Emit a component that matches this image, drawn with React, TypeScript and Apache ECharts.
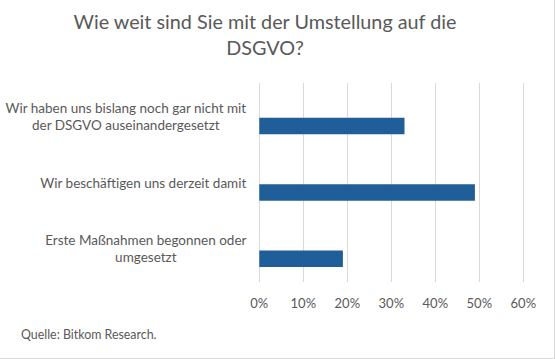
import React, { useEffect, useRef } from "react";
import * as echarts from "echarts";

const TITLE = "Wie weit sind Sie mit der Umstellung auf die\nDSGVO?";
const SOURCE = "Quelle: Bitkom Research.";
const categories = [
  "Wir haben uns bislang noch gar nicht mit\nder DSGVO auseinandergesetzt",
  "Wir beschäftigen uns derzeit damit",
  "Erste Maßnahmen begonnen oder\numgesetzt",
];
const values = [33, 49, 19];
const xTicks = [0, 10, 20, 30, 40, 50, 60];

const FONT = "Lato, 'Noto Sans', sans-serif";
const TEXT = "#595959";
const LABEL_SIZE = 13.5;

function measure(text: string, size: number): number {
  const c = document.createElement("canvas").getContext("2d");
  if (!c) return text.length * size * 0.5;
  c.font = `${size}px Lato`;
  return c.measureText(text).width;
}

export default function App() {
  const ref = useRef<HTMLDivElement>(null);
  useEffect(() => {
    if (!ref.current) return;
    const chart = echarts.init(ref.current, undefined, { renderer: "svg" });
    const rich: Record<string, any> = {};
    categories.forEach((cat, i) => {
      const w = Math.max(...cat.split("\n").map((l) => measure(l, LABEL_SIZE)));
      rich["c" + i] = {
        align: "center",
        width: Math.ceil(w) + 1,
        color: TEXT,
        fontFamily: FONT,
        fontSize: LABEL_SIZE,
        lineHeight: 17,
      };
    });
    chart.setOption({
      animation: false,
      backgroundColor: "#ffffff",
      title: {
        text: TITLE,
        left: 260,
        top: 3,
        textAlign: "center",
        textStyle: {
          fontFamily: FONT,
          fontSize: 19.8,
          fontWeight: "normal",
          color: TEXT,
          lineHeight: 26,
          align: "center",
        },
      },
      grid: { left: 259.3, right: 555 - 523.3, top: 83, bottom: 359 - 282 },
      xAxis: {
        type: "value",
        min: xTicks[0],
        max: xTicks[xTicks.length - 1],
        interval: 10,
        axisLine: { show: false },
        axisTick: { show: false },
        splitLine: { show: true, lineStyle: { color: "#d9d9d9", width: 1 } },
        axisLabel: {
          formatter: (v: number) => `${v}%`,
          color: TEXT,
          fontFamily: FONT,
          fontSize: 13,
          margin: 14,
        },
      },
      yAxis: {
        type: "category",
        data: categories,
        inverse: true,
        axisLine: { show: false },
        axisTick: { show: false },
        splitLine: { show: false },
        axisLabel: {
          margin: 12,
          formatter: (v: string) => {
            const i = categories.indexOf(v);
            return v
              .split("\n")
              .map((l) => `{c${i}|${l}}`)
              .join("\n");
          },
          rich,
        },
      },
      series: [
        {
          type: "bar",
          name: "spacer",
          data: categories.map(() => null),
          barWidth: 16.5,
          barGap: "20%",
          silent: true,
        },
        {
          type: "bar",
          name: "Anteil",
          data: values,
          barWidth: 16.5,
          barGap: "20%",
          itemStyle: { color: "#1f5e99" },
        },
      ],
      graphic: [
        {
          type: "text",
          left: 21,
          top: 328,
          style: { text: SOURCE, fill: TEXT, font: `12.4px ${FONT}` },
        },
        {
          type: "line",
          shape: { x1: 554.5, y1: 0, x2: 554.5, y2: 358.5 },
          style: { stroke: "#d9d9d9", lineWidth: 1 },
        },
        {
          type: "line",
          shape: { x1: 0, y1: 358.5, x2: 555, y2: 358.5 },
          style: { stroke: "#d9d9d9", lineWidth: 1 },
        },
      ],
    });
    return () => chart.dispose();
  }, []);
  return (
    <div
      ref={ref}
      style={{ position: "absolute", left: 0, top: 0, width: 555, height: 359 }}
    />
  );
}
